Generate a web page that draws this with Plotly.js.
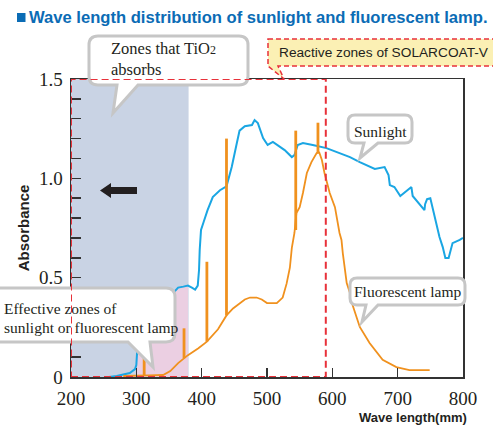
<!DOCTYPE html>
<html>
<head>
<meta charset="utf-8">
<script src="https://cdn.plot.ly/plotly-3.0.1.min.js"></script>
<style>html,body{margin:0;padding:0;background:#fff;}#chart{width:493px;height:429px;}</style>
</head>
<body>
<div id="chart"></div>
<script>
// ---- data ----
const sunX = [258, 270, 290, 298, 300, 302, 306, 310, 320, 335, 350, 356, 364, 372, 379, 385, 390, 394, 396, 397, 399, 403, 409, 417, 428, 438, 446, 454, 458, 466, 472, 477, 481, 486, 494, 501, 509, 516, 527, 538, 542, 547, 555, 570, 591, 611, 627, 642, 665, 680, 686, 688, 695, 704, 721, 723, 741, 742, 745, 750, 752, 764, 769, 773, 778, 784, 795, 800];
const sunY = [0.0, 0.005, 0.02, 0.04, 0.06, 0.17, 0.16, 0.17, 0.25, 0.35, 0.40, 0.42, 0.45, 0.455, 0.46, 0.45, 0.44, 0.46, 0.54, 0.64, 0.74, 0.78, 0.84, 0.906, 0.94, 0.96, 1.057, 1.18, 1.24, 1.262, 1.265, 1.268, 1.293, 1.278, 1.203, 1.168, 1.183, 1.168, 1.142, 1.107, 1.117, 1.168, 1.178, 1.168, 1.152, 1.127, 1.107, 1.082, 1.047, 1.057, 1.017, 0.966, 0.956, 0.911, 0.956, 0.911, 0.84, 0.87, 0.895, 0.90, 0.87, 0.705, 0.654, 0.599, 0.599, 0.674, 0.69, 0.70];

const fluX = [280, 300, 320, 341, 352, 364, 373, 379, 395, 408, 425, 438, 448, 458, 466, 474, 484, 492, 500, 515, 524, 530, 535, 538, 542, 545, 550, 555, 561, 568, 576, 580, 584, 588, 596, 604, 608, 611, 614, 616, 622, 627, 630, 642, 657, 677, 698, 718, 749];
const fluY = [0.005, 0.005, 0.008, 0.01, 0.03, 0.07, 0.095, 0.11, 0.145, 0.178, 0.24, 0.31, 0.345, 0.372, 0.39, 0.40, 0.40, 0.39, 0.372, 0.372, 0.40, 0.47, 0.55, 0.65, 0.725, 0.825, 0.855, 0.926, 1.027, 1.082, 1.127, 1.13, 1.092, 1.027, 0.926, 0.855, 0.775, 0.725, 0.69, 0.624, 0.473, 0.423, 0.372, 0.252, 0.171, 0.086, 0.05, 0.035, 0.035];

// mercury emission lines of the lamp
const spikeX    = [312, 373, 408, 438, 544, 578];
const spikeBase = [0.005, 0.095, 0.178, 0.31, 0.74, 1.127];
const spikeTop  = [0.10, 0.245, 0.58, 1.20, 1.24, 1.28];

const xTicks = [200, 300, 400, 500, 600, 700, 800];
const yTickVals = [0, 0.5, 1.0, 1.5];
const yTickText = ['0', '0.5', '1.0', '1.5'];

const tio2Zone = [200, 380];        // wavelength range absorbed by TiO2
const reactiveZone = [200, 590];    // reactive zones of SOLARCOAT-V

// ---- build traces ----
const effX = [], effY = [];
sunX.forEach((x, i) => { if (x >= 300 && x <= tio2Zone[1]) { effX.push(x); effY.push(sunY[i]); } });

const spkX = [], spkY = [];
spikeX.forEach((x, i) => { spkX.push(x, x, null); spkY.push(spikeBase[i], spikeTop[i], null); });

const orange = '#f0911e';
const traces = [
  {x: effX, y: effY, type: 'scatter', mode: 'lines', fill: 'tozeroy', fillcolor: '#ebcfe2', line: {width: 0}, hoverinfo: 'skip', showlegend: false},
  {x: sunX, y: sunY, type: 'scatter', mode: 'lines', name: 'Sunlight', line: {color: '#1aa6e3', width: 2}, showlegend: false},
  {x: fluX, y: fluY, type: 'scatter', mode: 'lines', name: 'Fluorescent lamp', line: {color: orange, width: 1.8}, showlegend: false},
  {x: spkX, y: spkY, type: 'scatter', mode: 'lines', name: 'Fluorescent lamp lines', line: {color: orange, width: 2.8}, showlegend: false}
];

// ---- pixel helpers for decorations (plot area 71..463 x 79..377) ----
const PL = 71, PR = 463, PT = 79, PB = 377;
const X = p => ((p - PL) / (PR - PL)).toFixed(5);
const Y = p => ((PB - p) / (PB - PT)).toFixed(5);
function callout(x0, y0, x1, y1, r, tb1, tb2, tx, ty) {
  return `M${X(x0 + r)},${Y(y0)} L${X(x1 - r)},${Y(y0)} Q${X(x1)},${Y(y0)} ${X(x1)},${Y(y0 + r)} ` +
         `L${X(x1)},${Y(y1 - r)} Q${X(x1)},${Y(y1)} ${X(x1 - r)},${Y(y1)} L${X(tb2)},${Y(y1)} L${X(tx)},${Y(ty)} L${X(tb1)},${Y(y1)} ` +
         `L${X(x0 + r)},${Y(y1)} Q${X(x0)},${Y(y1)} ${X(x0)},${Y(y1 - r)} L${X(x0)},${Y(y0 + r)} Q${X(x0)},${Y(y0)} ${X(x0 + r)},${Y(y0)} Z`;
}
function poly(pts) { return 'M' + pts.map(p => X(p[0]) + ',' + Y(p[1])).join(' L') + ' Z'; }

const bubble = {type: 'path', xref: 'paper', yref: 'paper', layer: 'above', fillcolor: '#ffffff', line: {color: '#c6c6c6', width: 3}};
const titleBlue = '#0b6cb5';
const serif = 'Liberation Serif, Times New Roman, serif';
const sans = 'Liberation Sans, Arial, sans-serif';

const shapes = [
  {type: 'rect', xref: 'x', yref: 'y', x0: tio2Zone[0], x1: tio2Zone[1], y0: 0, y1: 1.5, fillcolor: '#c9d3e4', line: {width: 0}, layer: 'below'},
  Object.assign({}, bubble, {path: callout(89, 36, 248, 85, 9, 117, 138, 113, 113)}),
  Object.assign({}, bubble, {path: callout(348, 115, 412, 143, 7, 364, 378, 360, 158)}),
  Object.assign({}, bubble, {path: callout(350, 278, 465, 305, 7, 366, 378, 362, 322)}),
  Object.assign({}, bubble, {path: callout(-12, 288, 175, 342, 9, 128, 150, 153, 367)}),
  {type: 'path', xref: 'paper', yref: 'paper', layer: 'above', fillcolor: '#fbf0b4', line: {color: '#e8313a', width: 1.5, dash: '5px,3px'},
   path: callout(268, 39, 505, 66, 0, 268, 278, 284, 79)},
  {type: 'rect', xref: 'x', yref: 'y', x0: reactiveZone[0], x1: reactiveZone[1], y0: 0, y1: 1.5, layer: 'above',
   line: {color: '#e8313a', width: 2, dash: '7px,4px'}},
  {type: 'path', xref: 'paper', yref: 'paper', layer: 'above', fillcolor: '#231f20', line: {width: 0},
   path: poly([[100, 190.5], [111, 183], [111, 187], [137, 187], [137, 194], [111, 194], [111, 198]])},
  {type: 'rect', xref: 'paper', yref: 'paper', layer: 'above', fillcolor: titleBlue, line: {width: 0},
   x0: X(17), x1: X(25.5), y0: Y(22), y1: Y(13)}
];

const txt = (text, px, py, xanchor, size, family, extra) => Object.assign({
  text: text, xref: 'paper', yref: 'paper', x: +X(px), y: +Y(py), xanchor: xanchor, yanchor: 'middle',
  showarrow: false, font: {family: family, size: size, color: '#231f20'}
}, extra || {});

const annotations = [
  txt('Zones that TiO<span style="font-size:12px">2</span><br>absorbs', 109, 58.5, 'left', 16.5, serif, {align: 'left'}),
  txt('Sunlight', 380, 131, 'center', 15.5, serif),
  txt('Fluorescent lamp', 408, 291.5, 'center', 15.5, serif),
  txt('Effective zones of', 2, 308, 'left', 15.5, serif),
  txt('sunlight or fluorescent lamp', 2, 328, 'left', 15.5, serif),
  txt('Reactive zones of SOLARCOAT-V', 277, 53, 'left', 13.7, sans),
  txt('<b>Wave length(mm)</b>', 469, 417, 'right', 13, sans)
];

const layout = {
  width: 493, height: 429,
  margin: {l: PL, r: 493 - PR, t: PT, b: 429 - PB, pad: 0},
  paper_bgcolor: '#ffffff', plot_bgcolor: '#ffffff',
  showlegend: false,
  title: {text: '<b>Wave length distribution of sunlight and fluorescent lamp.</b>', xref: 'container', yref: 'container',
          x: 29 / 493, xanchor: 'left', y: 1 - 17.5 / 429, yanchor: 'middle',
          font: {family: sans, size: 16.6, color: titleBlue}},
  xaxis: {range: [200, 800], tickvals: xTicks, ticks: 'inside', ticklen: 9, tickwidth: 1.5, tickcolor: '#333',
          showline: true, mirror: true, linecolor: '#333', linewidth: 1.5, showgrid: false, zeroline: false,
          tickfont: {family: serif, size: 19, color: '#231f20'}, ticklabelstandoff: 4, fixedrange: true},
  yaxis: {range: [0, 1.5], tickvals: yTickVals, ticktext: yTickText, ticks: 'inside', ticklen: 10, tickwidth: 1.5, tickcolor: '#333',
          minor: {dtick: 0.1, ticks: 'inside', ticklen: 10, tickwidth: 1.5, tickcolor: '#333', showgrid: false},
          showline: true, mirror: true, linecolor: '#333', linewidth: 1.5, showgrid: false, zeroline: false,
          tickfont: {family: serif, size: 19, color: '#231f20'}, ticklabelstandoff: 3, fixedrange: true,
          title: {text: '<b>Absorbance</b>', font: {family: sans, size: 15, color: '#231f20'}, standoff: 5}},
  shapes: shapes,
  annotations: annotations
};

Plotly.newPlot('chart', traces, layout, {displayModeBar: false, staticPlot: true});
</script>
</body>
</html>
